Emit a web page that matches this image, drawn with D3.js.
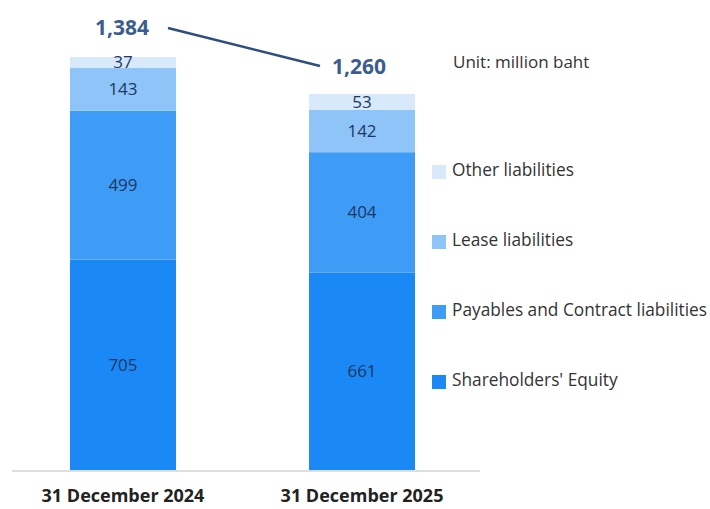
<!DOCTYPE html>
<html><head><meta charset="utf-8">
<script src="https://cdn.jsdelivr.net/npm/d3@7"></script>
<style>body{margin:0;background:#fff}svg{display:block}</style>
</head><body>
<svg id="c" width="710" height="509"></svg>
<script>
const categories = ["31 December 2024", "31 December 2025"];
const seriesNames = ["Shareholders' Equity", "Payables and Contract liabilities", "Lease liabilities", "Other liabilities"];
const shareholdersEquity = [705, 661];
const payables = [499, 404];
const lease = [143, 142];
const other = [37, 53];
const totals = [1384, 1260];
const totalLabels = ["1,384", "1,260"];
const unitLabel = "Unit: million baht";

const colors = ["#1a88f5", "#3f9cf6", "#8ec4f8", "#d8e9fb"];
const svg = d3.select("#c");
const font = "'Open Sans', sans-serif";

const rows = categories.map((c, i) => ({cat: c, s0: shareholdersEquity[i], s1: payables[i], s2: lease[i], s3: other[i]}));
const stack = d3.stack().keys(["s0","s1","s2","s3"])(rows);

const x = d3.scaleBand().domain(categories).range([31.5, 453.5]).paddingInner(0.5565).paddingOuter(0.161);
const y = d3.scaleLinear().domain([0, 1384]).range([470, 57]);

const g = svg.append("g");
stack.forEach((layer, k) => {
  g.selectAll(null).data(layer).enter().append("rect")
    .attr("x", (d, i) => x(categories[i]))
    .attr("width", x.bandwidth())
    .attr("y", d => y(d[1]))
    .attr("height", d => y(d[0]) - y(d[1]))
    .attr("fill", colors[k]);
  g.selectAll(null).data(layer).enter().append("text")
    .attr("x", (d, i) => x(categories[i]) + x.bandwidth()/2)
    .attr("y", d => (y(d[0]) + y(d[1]))/2)
    .attr("dy", "0.35em")
    .attr("text-anchor", "middle")
    .attr("font-family", font).attr("font-size", 17)
    .attr("fill", "#1b3864")
    .text(d => d[1] - d[0]);
});

// axis
const axis = svg.append("g").attr("transform", "translate(0,470)")
  .call(d3.axisBottom(x).tickSize(0).tickPadding(19));
axis.select(".domain").remove();
svg.append("line").attr("x1", 12).attr("x2", 480).attr("y1", 471).attr("y2", 471)
  .attr("stroke", "#d4d4d4").attr("stroke-width", 1.5);
axis.selectAll("text").attr("font-family", font).attr("font-size", 18).attr("font-weight", "bold").attr("fill", "#222");

// totals
const totalPos = [{dx: -1, dy: -29}, {dx: -3, dy: -27}];
svg.selectAll(null).data(totals).enter().append("text")
  .attr("x", (d, i) => x(categories[i]) + x.bandwidth()/2 + totalPos[i].dx)
  .attr("y", (d, i) => y(d) + totalPos[i].dy)
  .attr("dy", "0.35em")
  .attr("text-anchor", "middle")
  .attr("font-family", font).attr("font-size", 21).attr("font-weight", "bold")
  .attr("fill", "#3b5c91")
  .text((d, i) => totalLabels[i]);

svg.append("line")
  .attr("x1", x(categories[0]) + x.bandwidth()/2 + 45).attr("y1", y(totals[0]) - 29)
  .attr("x2", x(categories[1]) + x.bandwidth()/2 - 42).attr("y2", y(totals[1]) - 28)
  .attr("stroke", "#2f4d7e").attr("stroke-width", 2.5);

svg.append("text").attr("x", 453).attr("y", 62).attr("dy", "0.35em")
  .attr("font-family", font).attr("font-size", 17).attr("fill", "#333").text(unitLabel);

// legend
const legendOrder = [3, 2, 1, 0];
const leg = svg.selectAll(null).data(legendOrder).enter().append("g")
  .attr("transform", (d, i) => `translate(432,${170 + i*70})`);
leg.append("rect").attr("x", 0).attr("y", -5).attr("width", 14).attr("height", 14).attr("fill", d => colors[d]);
leg.append("text").attr("x", 20).attr("y", 0).attr("dy", "0.35em")
  .attr("font-family", font).attr("font-size", 17.3).attr("fill", "#333")
  .text(d => seriesNames[d]);
</script>
</body></html>
